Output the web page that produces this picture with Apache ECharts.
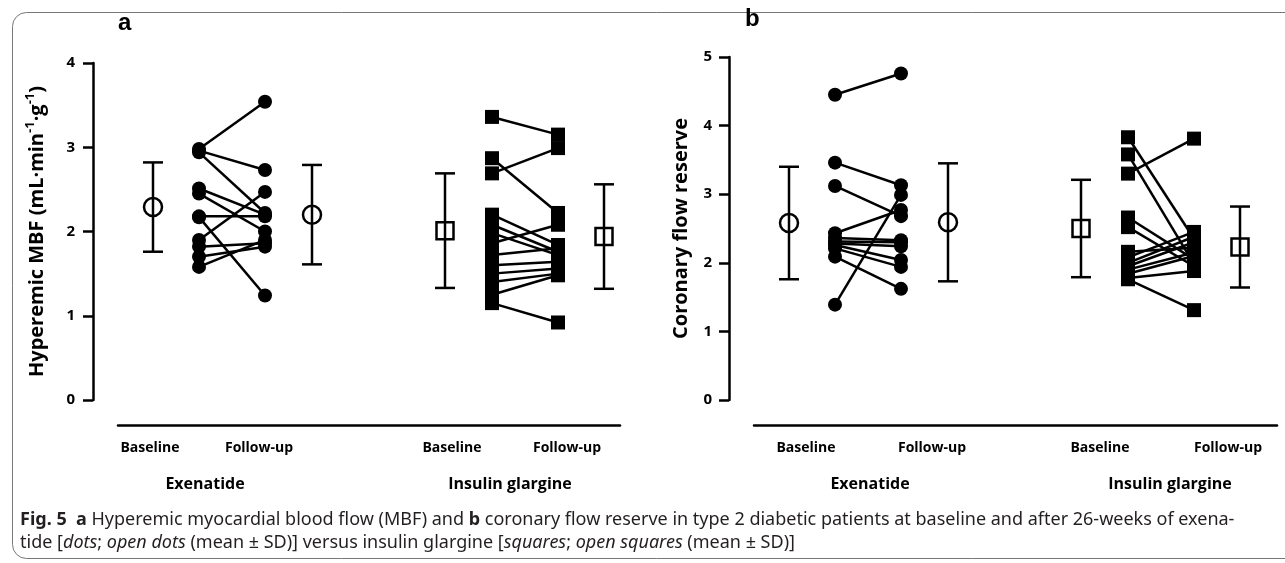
<!DOCTYPE html>
<html><head><meta charset="utf-8">
<script src="https://cdn.jsdelivr.net/npm/echarts@6/dist/echarts.min.js"></script>
<style>html,body{margin:0;padding:0;background:#fff}#c{width:1285px;height:563px}</style>
</head><body><div id="c"></div>
<script>
// ---------- data ----------
const timeLabels = ['Baseline', 'Follow-up'];
const groupLabels = ['Exenatide', 'Insulin glargine'];

// Panel a: hyperemic MBF (paired per patient)
const mbfExenBaseline = [2.98, 2.96, 2.94, 2.51, 2.45, 2.18, 2.17, 1.90, 1.82, 1.70, 1.58];
const mbfExenFollowup = [3.54, 2.73, 2.22, 2.20, 2.00, 2.18, 1.24, 2.47, 1.86, 1.82, 1.90];
const mbfInsBaseline  = [3.36, 2.87, 2.69, 2.20, 2.08, 1.98, 1.86, 1.72, 1.60, 1.50, 1.40, 1.25, 1.15];
const mbfInsFollowup  = [3.15, 2.22, 2.99, 1.84, 1.76, 1.72, 2.08, 1.80, 1.64, 1.56, 1.50, 1.48, 0.92];
// mean and SD: [exenatide baseline, exenatide follow-up, insulin baseline, insulin follow-up]
const mbfMean = [2.29, 2.20, 2.01, 1.94];
const mbfSD   = [0.53, 0.59, 0.68, 0.62];

// Panel b: coronary flow reserve
const cfrExenBaseline = [4.45, 3.46, 3.12, 1.39, 2.43, 2.36, 2.31, 2.28, 2.26, 2.21, 2.09];
const cfrExenFollowup = [4.76, 3.13, 2.68, 2.99, 2.77, 2.33, 2.30, 2.24, 2.04, 1.94, 1.62];
const cfrInsBaseline  = [3.83, 3.58, 3.30, 2.66, 2.52, 2.16, 2.08, 2.00, 1.95, 1.90, 1.84, 1.78, 1.76];
const cfrInsFollowup  = [2.35, 1.98, 3.81, 2.05, 1.95, 2.22, 2.45, 2.38, 2.30, 2.15, 2.10, 1.88, 1.31];
const cfrMean = [2.58, 2.59, 2.50, 2.23];
const cfrSD   = [0.82, 0.86, 0.71, 0.59];

const yTicksA = [0, 1, 2, 3, 4];
const yTicksB = [0, 1, 2, 3, 4, 5];

// ---------- layout (logical x positions on each panel's x scale) ----------
// per group: [mean baseline, individual baseline, individual follow-up, mean follow-up]
const xPos = [[35, 81, 147, 194], [327, 374, 440, 486]];
const panels = [
  { grid: { left: 118, top: 63, width: 502, height: 337 }, xMax: 502,
    timeLabelX: [32, 141, 334, 449], groupLabelX: [87, 392],
    yMax: 4, ticks: yTicksA, labelMargin: 18,
    exB: mbfExenBaseline, exF: mbfExenFollowup, inB: mbfInsBaseline, inF: mbfInsFollowup,
    mean: mbfMean, sd: mbfSD,
    name: '{n|Hyperemic MBF (mL·min}{s|-1}{n|·g}{s|-1}{n|)}', nameGap: 43 },
  { grid: { left: 754, top: 57, width: 523, height: 343 }, xMax: 523,
    timeLabelX: [52, 178, 346, 474], groupLabelX: [116, 416],
    yMax: 5, ticks: yTicksB, labelMargin: 17,
    exB: cfrExenBaseline, exF: cfrExenFollowup, inB: cfrInsBaseline, inF: cfrInsFollowup,
    mean: cfrMean, sd: cfrSD,
    name: '{n|Coronary flow reserve}', nameGap: 35 }
];

const FONT = '"Open Sans", "Noto Sans", sans-serif';
const chart = echarts.init(document.getElementById('c'), null, { renderer: 'canvas' });

const grids = [], xAxes = [], yAxes = [], series = [];

function errRender(params, api) {
  const x = api.value(0), lo = api.value(1), hi = api.value(2);
  const t = api.coord([x, hi]), b = api.coord([x, lo]);
  const w = 10, st = { stroke: '#000', lineWidth: 2.5, fill: null };
  return { type: 'group', children: [
    { type: 'line', shape: { x1: t[0], y1: t[1], x2: b[0], y2: b[1] }, style: st },
    { type: 'line', shape: { x1: t[0] - w, y1: t[1], x2: t[0] + w, y2: t[1] }, style: st },
    { type: 'line', shape: { x1: b[0] - w, y1: b[1], x2: b[0] + w, y2: b[1] }, style: st }
  ]};
}

panels.forEach((p, pi) => {
  grids.push(p.grid);
  const tl = {}; p.timeLabelX.forEach((v, i) => { tl[v] = timeLabels[i % 2]; });
  const gl = {}; p.groupLabelX.forEach((v, i) => { gl[v] = groupLabels[i]; });
  xAxes.push({
    type: 'value', gridIndex: pi, min: 0, max: p.xMax, position: 'bottom', offset: 25,
    axisLine: { show: true, onZero: false, lineStyle: { color: '#000', width: 2.5 } },
    axisTick: { show: false }, splitLine: { show: false },
    axisLabel: { customValues: p.timeLabelX, formatter: v => tl[v] || '', margin: 16,
      color: '#000', fontWeight: 'bold', fontSize: 14, fontFamily: FONT }
  });
  xAxes.push({
    type: 'value', gridIndex: pi, min: 0, max: p.xMax, position: 'bottom', offset: 25,
    axisLine: { show: false, onZero: false }, axisTick: { show: false }, splitLine: { show: false },
    axisLabel: { customValues: p.groupLabelX, formatter: v => gl[v] || '', margin: 51,
      color: '#000', fontWeight: 'bold', fontSize: 16, fontFamily: FONT }
  });
  yAxes.push({
    type: 'value', gridIndex: pi, min: 0, max: p.yMax, interval: 1, position: 'left', offset: 25,
    axisLine: { show: true, onZero: false, lineStyle: { color: '#000', width: 2.5 } },
    axisTick: { show: true, length: 10, lineStyle: { color: '#000', width: 2.5 } },
    splitLine: { show: false },
    axisLabel: { color: '#000', fontWeight: 'bold', fontSize: 15, fontFamily: FONT, margin: p.labelMargin },
    name: p.name, nameLocation: 'middle', nameGap: p.nameGap, nameRotate: 90,
    nameTextStyle: { rich: {
      n: { fontSize: 20, fontWeight: 'bold', fontFamily: FONT, color: '#000', lineHeight: 26 },
      s: { fontSize: 13, fontWeight: 'bold', fontFamily: FONT, color: '#000', verticalAlign: 'top', lineHeight: 26 }
    } }
  });
  const xi = pi * 2, yi = pi;
  const groups = [
    { b: p.exB, f: p.exF, sym: 'circle', size: 14, msym: 'circle', msize: 18 },
    { b: p.inB, f: p.inF, sym: 'rect', size: 14, msym: 'rect', msize: 17 }
  ];
  groups.forEach((g, gi) => {
    const X = xPos[gi];
    g.b.forEach((v, i) => {
      series.push({ type: 'line', xAxisIndex: xi, yAxisIndex: yi, silent: true, symbol: 'none',
        lineStyle: { color: '#000', width: 2.5 }, z: 2,
        data: [[X[1], v], [X[2], g.f[i]]] });
    });
    series.push({ type: 'scatter', xAxisIndex: xi, yAxisIndex: yi, symbol: g.sym, symbolSize: g.size,
      itemStyle: { color: '#000', opacity: 1 }, z: 3,
      data: g.b.map(v => [X[1], v]).concat(g.f.map(v => [X[2], v])) });
    const m0 = p.mean[gi * 2], m1 = p.mean[gi * 2 + 1];
    const s0 = p.sd[gi * 2], s1 = p.sd[gi * 2 + 1];
    series.push({ type: 'custom', xAxisIndex: xi, yAxisIndex: yi, renderItem: errRender, z: 2,
      encode: { x: 0, y: [1, 2] },
      data: [[X[0], m0 - s0, m0 + s0], [X[3], m1 - s1, m1 + s1]] });
    series.push({ type: 'scatter', xAxisIndex: xi, yAxisIndex: yi, symbol: g.msym, symbolSize: g.msize,
      itemStyle: { color: 'rgba(0,0,0,0)', borderColor: '#000', borderWidth: 2.5, opacity: 1 }, z: 4,
      data: [[X[0], m0], [X[3], m1]] });
  });
});

const CAPFONT = '"Noto Sans", "Open Sans", sans-serif';
const capStyle = {
  fontSize: 18, fontFamily: CAPFONT, fill: '#231f20',
  rich: {
    b: { fontWeight: 'bold', fontSize: 18, fontFamily: CAPFONT, fill: '#231f20' },
    i: { fontStyle: 'italic', fontSize: 18, fontFamily: CAPFONT, fill: '#231f20' }
  }
};

chart.setOption({
  animation: false,
  backgroundColor: '#fff',
  grid: grids, xAxis: xAxes, yAxis: yAxes, series: series,
  graphic: [
    { type: 'rect', left: 10, top: 10, shape: { x: 0, y: 0, width: 1300, height: 546, r: 14 },
      style: { fill: null, stroke: '#777', lineWidth: 1 }, z: -1 },
    { type: 'text', left: 118, top: 11, style: { text: 'a', fontSize: 24, fontWeight: 'bold',
      fontFamily: '"Liberation Sans", Arial, sans-serif', fill: '#000' } },
    { type: 'text', left: 745, top: 7, style: { text: 'b', fontSize: 24, fontWeight: 'bold',
      fontFamily: '"Liberation Sans", Arial, sans-serif', fill: '#000' } },
    { type: 'text', left: 20, top: 511, style: Object.assign({
      text: '{b|Fig. 5}  {b|a} Hyperemic myocardial blood flow (MBF) and {b|b} coronary flow reserve in type 2 diabetic patients at baseline and after 26-weeks of exena-' }, capStyle) },
    { type: 'text', left: 20, top: 534, style: Object.assign({
      text: 'tide [{i|dots}; {i|open dots} (mean ± SD)] versus insulin glargine [{i|squares}; {i|open squares} (mean ± SD)]' }, capStyle) }
  ]
});
</script>
</body></html>
